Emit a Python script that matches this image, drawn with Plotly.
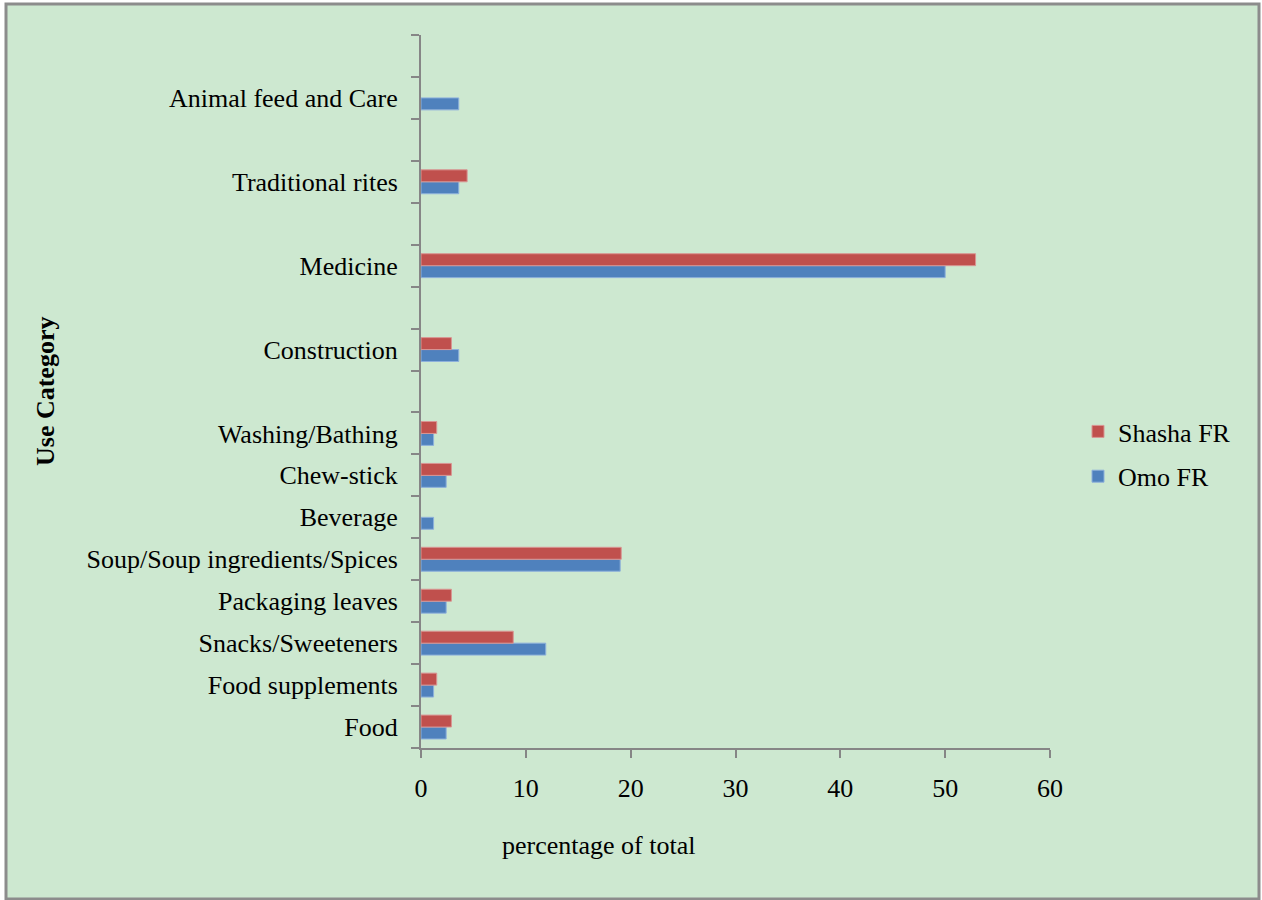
import plotly.graph_objects as go

# Categories from bottom to top; blank strings are empty slots in the original layout
categories = [
    "Food",
    "Food supplements",
    "Snacks/Sweeteners",
    "Packaging leaves",
    "Soup/Soup ingredients/Spices",
    "Beverage",
    "Chew-stick",
    "Washing/Bathing",
    " ",
    "Construction",
    "  ",
    "Medicine",
    "   ",
    "Traditional rites",
    "    ",
    "Animal feed and Care",
    "     ",
]

omo_fr = [2.4, 1.2, 11.9, 2.4, 19.0, 1.2, 2.4, 1.2, None, 3.6, None, 50.0, None, 3.6, None, 3.6, None]
shasha_fr = [2.9, 1.5, 8.8, 2.9, 19.1, None, 2.9, 1.5, None, 2.9, None, 52.9, None, 4.4, None, None, None]

x_ticks = [0, 10, 20, 30, 40, 50, 60]

W, H = 1262, 900
ML, MR, MT, MB = 421, 212, 35, 152
PW, PH = W - ML - MR, H - MT - MB

def px_x(p):
    return (p - ML) / PW

def px_y(p):
    return (H - MB - p) / PH

FONT = "Liberation Serif, Times New Roman, serif"
GREEN = "#CDE8D0"
AXIS = "#868686"

fig = go.Figure()
fig.add_trace(go.Bar(
    y=categories, x=omo_fr, orientation="h", name="Omo FR",
    marker=dict(color="#4F81BD", line=dict(color="#8DB0DB", width=1)),
    legendgroup="omo", legendrank=2,
))
fig.add_trace(go.Bar(
    y=categories, x=shasha_fr, orientation="h", name="Shasha FR",
    marker=dict(color="#C0504D", line=dict(color="#D99593", width=1)),
    legendgroup="shasha", legendrank=1,
))

fig.update_layout(
    width=W, height=H,
    margin=dict(l=ML, r=MR, t=MT, b=MB, pad=0),
    paper_bgcolor="white",
    plot_bgcolor="rgba(0,0,0,0)",
    barmode="group",
    bargap=0.43,
    bargroupgap=0,
    font=dict(family=FONT, size=26, color="black"),
    legend=dict(
        x=px_x(1078), y=px_y(408), xanchor="left", yanchor="top",
        traceorder="grouped", tracegroupgap=8,
        bgcolor="rgba(0,0,0,0)", font=dict(family=FONT, size=26),
        itemwidth=30,
    ),
    xaxis=dict(
        range=[0, 60], tickvals=x_ticks, showgrid=False, zeroline=False,
        showline=True, linecolor=AXIS, linewidth=2,
        ticks="outside", ticklen=8, tickwidth=2, tickcolor=AXIS,
        ticklabelstandoff=8,
        tickfont=dict(family=FONT, size=26),
    ),
    yaxis=dict(
        type="category", categoryorder="array", categoryarray=categories,
        range=[-0.5, len(categories) - 0.5],
        showgrid=False, zeroline=False,
        showline=True, linecolor=AXIS, linewidth=2,
        ticks="outside", ticklen=8, tickwidth=2, tickcolor=AXIS,
        tickson="boundaries", ticklabelstandoff=16,
        tickfont=dict(family=FONT, size=26),
    ),
    shapes=[dict(
        type="rect", xref="paper", yref="paper", layer="below",
        x0=px_x(6), x1=px_x(1259), y0=px_y(899), y1=px_y(4),
        fillcolor=GREEN, line=dict(color="#8C8C8C", width=3),
    )],
    annotations=[
        dict(text="percentage of total", xref="paper", yref="paper",
             x=px_x(598), y=px_y(845), xanchor="center", yanchor="middle",
             showarrow=False, font=dict(family=FONT, size=26)),
        dict(text="<b>Use Category</b>", xref="paper", yref="paper",
             x=px_x(45), y=px_y(392), xanchor="center", yanchor="middle",
             textangle=-90, showarrow=False, font=dict(family=FONT, size=26)),
    ],
)

fig.write_html(
    "out.html",
    config={"displayModeBar": False},
    post_script="document.body.style.margin='0';document.body.style.overflow='hidden';",
)
